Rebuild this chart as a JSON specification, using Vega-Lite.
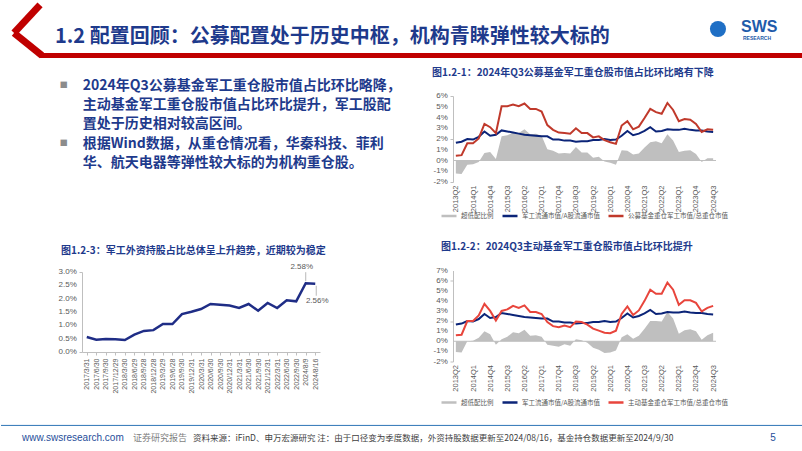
{
  "$schema": "https://vega.github.io/schema/vega-lite/v6.json",
  "padding": 0,
  "background": "white",
  "config": {
    "view": {"stroke": null},
    "font": "Noto Sans CJK SC",
    "axis": {"labelFont": "Liberation Sans", "labelColor": "#595959", "domainColor": "#BFBFBF", "tickColor": "#BFBFBF", "grid": false, "title": null, "labelFontSize": 8, "tickSize": 3},
    "title": {"anchor": "start", "font": "Noto Sans CJK SC", "fontWeight": "bold", "fontSize": 10, "color": "#1E3A8C", "frame": "group"},
    "legend": {"labelFont": "Noto Sans CJK SC", "labelFontSize": 6.5, "labelColor": "#595959", "symbolType": "stroke", "symbolSize": 225, "symbolStrokeWidth": 2.5, "columnPadding": 3, "labelOffset": 3, "title": null}
  },
  "datasets": {
    "q": [
      {"q": "2013Q2", "blue": 1.65, "red1": 0.45, "gap1": -1.2, "red2": 0.6, "gap2": -1.05},
      {"q": "2013Q3", "blue": 1.75, "red1": 0.5, "gap1": -1.25, "red2": 0.65, "gap2": -1.1},
      {"q": "2013Q4", "blue": 2.0, "red1": 1.6, "gap1": -0.4, "red2": 2.0, "gap2": 0},
      {"q": "2014Q1", "blue": 1.95, "red1": 1.6, "gap1": -0.35, "red2": 2.0, "gap2": 0.05},
      {"q": "2014Q2", "blue": 2.2, "red1": 2.05, "gap1": -0.15, "red2": 2.55, "gap2": 0.35},
      {"q": "2014Q3", "blue": 2.7, "red1": 3.4, "gap1": 0.7, "red2": 3.7, "gap2": 1.0},
      {"q": "2014Q4", "blue": 2.3, "red1": 3.1, "gap1": 0.8, "red2": 3.0, "gap2": 0.7},
      {"q": "2015Q1", "blue": 2.4, "red1": 2.55, "gap1": 0.15, "red2": 2.05, "gap2": -0.35},
      {"q": "2015Q2", "blue": 2.8, "red1": 5.05, "gap1": 2.25, "red2": 3.0, "gap2": 0.2},
      {"q": "2015Q3", "blue": 2.7, "red1": 5.05, "gap1": 2.35, "red2": 3.15, "gap2": 0.45},
      {"q": "2015Q4", "blue": 2.6, "red1": 5.2, "gap1": 2.6, "red2": 3.5, "gap2": 0.9},
      {"q": "2016Q1", "blue": 2.5, "red1": 5.05, "gap1": 2.55, "red2": 3.3, "gap2": 0.8},
      {"q": "2016Q2", "blue": 2.4, "red1": 5.3, "gap1": 2.9, "red2": 3.55, "gap2": 1.15},
      {"q": "2016Q3", "blue": 2.35, "red1": 4.8, "gap1": 2.45, "red2": 2.9, "gap2": 0.55},
      {"q": "2016Q4", "blue": 2.3, "red1": 4.8, "gap1": 2.5, "red2": 2.9, "gap2": 0.6},
      {"q": "2017Q1", "blue": 2.25, "red1": 4.55, "gap1": 2.3, "red2": 2.7, "gap2": 0.45},
      {"q": "2017Q2", "blue": 2.25, "red1": 3.3, "gap1": 1.05, "red2": 1.9, "gap2": -0.35},
      {"q": "2017Q3", "blue": 1.95, "red1": 2.85, "gap1": 0.9, "red2": 1.5, "gap2": -0.45},
      {"q": "2017Q4", "blue": 1.95, "red1": 2.6, "gap1": 0.65, "red2": 1.4, "gap2": -0.55},
      {"q": "2018Q1", "blue": 1.85, "red1": 2.55, "gap1": 0.7, "red2": 1.55, "gap2": -0.3},
      {"q": "2018Q2", "blue": 1.85, "red1": 2.5, "gap1": 0.65, "red2": 1.4, "gap2": -0.45},
      {"q": "2018Q3", "blue": 1.75, "red1": 3.0, "gap1": 1.25, "red2": 1.95, "gap2": 0.2},
      {"q": "2018Q4", "blue": 1.8, "red1": 2.55, "gap1": 0.75, "red2": 1.9, "gap2": 0.1},
      {"q": "2019Q1", "blue": 1.8, "red1": 2.55, "gap1": 0.75, "red2": 1.65, "gap2": -0.15},
      {"q": "2019Q2", "blue": 1.9, "red1": 2.15, "gap1": 0.25, "red2": 1.25, "gap2": -0.65},
      {"q": "2019Q3", "blue": 1.9, "red1": 2.25, "gap1": 0.35, "red2": 1.05, "gap2": -0.85},
      {"q": "2019Q4", "blue": 2.0, "red1": 1.9, "gap1": -0.1, "red2": 0.85, "gap2": -1.15},
      {"q": "2020Q1", "blue": 1.9, "red1": 1.7, "gap1": -0.2, "red2": 0.8, "gap2": -1.1},
      {"q": "2020Q2", "blue": 1.95, "red1": 1.55, "gap1": -0.4, "red2": 1.05, "gap2": -0.9},
      {"q": "2020Q3", "blue": 2.3, "red1": 3.25, "gap1": 0.95, "red2": 2.7, "gap2": 0.4},
      {"q": "2020Q4", "blue": 2.75, "red1": 3.65, "gap1": 0.9, "red2": 3.45, "gap2": 0.7},
      {"q": "2021Q1", "blue": 2.35, "red1": 2.9, "gap1": 0.55, "red2": 2.6, "gap2": 0.25},
      {"q": "2021Q2", "blue": 2.5, "red1": 3.15, "gap1": 0.65, "red2": 3.05, "gap2": 0.55},
      {"q": "2021Q3", "blue": 2.75, "red1": 3.95, "gap1": 1.2, "red2": 4.0, "gap2": 1.25},
      {"q": "2021Q4", "blue": 3.1, "red1": 4.8, "gap1": 1.7, "red2": 5.1, "gap2": 2.0},
      {"q": "2022Q1", "blue": 2.7, "red1": 4.5, "gap1": 1.8, "red2": 4.7, "gap2": 2.0},
      {"q": "2022Q2", "blue": 2.75, "red1": 4.35, "gap1": 1.6, "red2": 4.7, "gap2": 1.95},
      {"q": "2022Q3", "blue": 2.9, "red1": 5.35, "gap1": 2.45, "red2": 5.8, "gap2": 2.9},
      {"q": "2022Q4", "blue": 2.85, "red1": 4.7, "gap1": 1.85, "red2": 5.1, "gap2": 2.25},
      {"q": "2023Q1", "blue": 2.85, "red1": 3.65, "gap1": 0.8, "red2": 3.6, "gap2": 0.75},
      {"q": "2023Q2", "blue": 2.95, "red1": 3.85, "gap1": 0.9, "red2": 4.05, "gap2": 1.1},
      {"q": "2023Q3", "blue": 2.85, "red1": 3.8, "gap1": 0.95, "red2": 4.05, "gap2": 1.2},
      {"q": "2023Q4", "blue": 2.8, "red1": 3.4, "gap1": 0.6, "red2": 3.8, "gap2": 1.0},
      {"q": "2024Q1", "blue": 2.8, "red1": 2.65, "gap1": -0.15, "red2": 2.95, "gap2": 0.15},
      {"q": "2024Q2", "blue": 2.7, "red1": 2.9, "gap1": 0.2, "red2": 3.3, "gap2": 0.6},
      {"q": "2024Q3", "blue": 2.65, "red1": 2.85, "gap1": 0.2, "red2": 3.5, "gap2": 0.85}
    ],
    "fx": [
      {"d": "2017/3/31", "v": 0.0056},
      {"d": "2017/6/30", "v": 0.0046},
      {"d": "2017/9/30", "v": 0.0049},
      {"d": "2017/12/29", "v": 0.00475},
      {"d": "2018/3/30", "v": 0.0045},
      {"d": "2018/6/29", "v": 0.0065},
      {"d": "2018/9/28", "v": 0.0079},
      {"d": "2018/12/28", "v": 0.0082},
      {"d": "2019/3/29", "v": 0.0105},
      {"d": "2019/6/28", "v": 0.0105},
      {"d": "2019/9/30", "v": 0.0142},
      {"d": "2019/12/31", "v": 0.0151},
      {"d": "2020/3/31", "v": 0.0161},
      {"d": "2020/6/30", "v": 0.018},
      {"d": "2020/9/30", "v": 0.0177},
      {"d": "2020/12/31", "v": 0.0174},
      {"d": "2021/3/31", "v": 0.0165},
      {"d": "2021/6/30", "v": 0.018},
      {"d": "2021/9/30", "v": 0.0155},
      {"d": "2021/12/31", "v": 0.0184},
      {"d": "2022/3/31", "v": 0.0165},
      {"d": "2022/6/30", "v": 0.0194},
      {"d": "2022/9/30", "v": 0.019},
      {"d": "2024/8/9", "v": 0.0258},
      {"d": "2024/8/16", "v": 0.0256}
    ],
    "ticks1": [
      {"t": -2, "lab": "-2%"}, {"t": -1, "lab": "-1%"}, {"t": 0, "lab": "0%"}, {"t": 1, "lab": "1%"}, {"t": 2, "lab": "2%"},
      {"t": 3, "lab": "3%"}, {"t": 4, "lab": "4%"}, {"t": 5, "lab": "5%"}, {"t": 6, "lab": "6%"}
    ],
    "ticks2": [
      {"t": -2, "lab": "-2%"}, {"t": -1, "lab": "-1%"}, {"t": 0, "lab": "0%"}, {"t": 1, "lab": "1%"}, {"t": 2, "lab": "2%"},
      {"t": 3, "lab": "3%"}, {"t": 4, "lab": "4%"}, {"t": 5, "lab": "5%"}, {"t": 6, "lab": "6%"}, {"t": 7, "lab": "7%"}
    ],
    "ticks3": [
      {"t": 0, "lab": "0.0%"}, {"t": 0.005, "lab": "0.5%"}, {"t": 0.01, "lab": "1.0%"}, {"t": 0.015, "lab": "1.5%"},
      {"t": 0.02, "lab": "2.0%"}, {"t": 0.025, "lab": "2.5%"}, {"t": 0.03, "lab": "3.0%"}
    ]
  },
  "resolve": {"scale": {"color": "independent"}, "legend": {"color": "independent"}},
  "spacing": 0,
  "vconcat": [
    {
      "width": 720,
      "height": 68,
      "data": {"values": [{"title": "1.2 配置回顾：公募配置处于历史中枢，机构青睐弹性较大标的"}]},
      "layer": [
        {
          "mark": {"type": "rule", "color": "#C00000", "strokeWidth": 5},
          "encoding": {
            "x": {"datum": -0.0583, "type": "quantitative", "scale": {"domain": [0, 1], "nice": false, "zero": false}, "axis": null},
            "x2": {"datum": 1},
            "y": {"datum": 0.816, "type": "quantitative", "scale": {"domain": [0, 1], "reverse": true, "nice": false, "zero": false}, "axis": null}
          }
        },
        {
          "mark": {"type": "rule", "color": "#C00000", "strokeWidth": 7},
          "encoding": {"x": {"datum": -0.0583, "type": "quantitative"}, "x2": {"datum": -0.0944}, "y": {"datum": 0.07, "type": "quantitative"}, "y2": {"datum": 0.485}}
        },
        {
          "mark": {"type": "rule", "color": "#C00000", "strokeWidth": 7},
          "encoding": {"x": {"datum": -0.0944, "type": "quantitative"}, "x2": {"datum": -0.0556}, "y": {"datum": 0.485, "type": "quantitative"}, "y2": {"datum": 0.816}}
        },
        {
          "mark": {"type": "text", "fontSize": 20, "fontWeight": "bold", "color": "#1E3A8C", "align": "left", "baseline": "middle", "font": "Noto Sans CJK SC"},
          "encoding": {"x": {"datum": -0.0375, "type": "quantitative"}, "y": {"datum": 0.544, "type": "quantitative"}, "text": {"field": "title"}}
        },
        {
          "mark": {"type": "point", "shape": "circle", "filled": true, "size": 260, "color": "#1F6FC5", "opacity": 1},
          "encoding": {"x": {"datum": 0.8833, "type": "quantitative"}, "y": {"datum": 0.426, "type": "quantitative"}}
        },
        {
          "mark": {"type": "text", "fontSize": 16, "fontWeight": "bold", "color": "#1F5BAA", "align": "left", "baseline": "middle", "font": "Liberation Sans"},
          "encoding": {"x": {"datum": 0.9153, "type": "quantitative"}, "y": {"datum": 0.404, "type": "quantitative"}, "text": {"value": "SWS"}}
        },
        {
          "mark": {"type": "text", "fontSize": 5, "fontWeight": "bold", "color": "#1F5BAA", "align": "left", "baseline": "middle", "font": "Liberation Sans"},
          "encoding": {"x": {"datum": 0.918, "type": "quantitative"}, "y": {"datum": 0.56, "type": "quantitative"}, "text": {"value": "RESEARCH"}}
        }
      ]
    },
    {
      "resolve": {"scale": {"color": "independent"}, "legend": {"color": "independent"}},
      "spacing": 13,
      "hconcat": [
        {
          "spacing": 50,
          "vconcat": [
            {
              "width": 333,
              "height": 100,
              "data": {"values": [
                {"line": 0, "bullet": "■", "text": "2024年Q3公募基金军工重仓股市值占比环比略降，"},
                {"line": 1, "bullet": "", "text": "主动基金军工重仓股市值占比环比提升，军工股配"},
                {"line": 2, "bullet": "", "text": "置处于历史相对较高区间。"},
                {"line": 3, "bullet": "■", "text": "根据Wind数据，从重仓情况看，华秦科技、菲利"},
                {"line": 4, "bullet": "", "text": "华、航天电器等弹性较大标的为机构重仓股。"}
              ]},
              "layer": [
                {
                  "transform": [{"filter": "datum.bullet != ''"}],
                  "mark": {"type": "text", "fontSize": 8, "color": "#8C8C8C", "align": "center", "baseline": "middle"},
                  "encoding": {
                    "x": {"datum": -0.055, "type": "quantitative", "scale": {"domain": [0, 1], "nice": false, "zero": false}, "axis": null},
                    "y": {"field": "line", "type": "quantitative", "scale": {"domain": [0.531, 5.686], "reverse": true, "nice": false, "zero": false}, "axis": null},
                    "text": {"field": "bullet"}
                  }
                },
                {
                  "mark": {"type": "text", "fontSize": 14, "fontWeight": "bold", "color": "#1E3A8C", "align": "left", "baseline": "middle"},
                  "encoding": {
                    "x": {"datum": 0.0021, "type": "quantitative"},
                    "y": {"field": "line", "type": "quantitative"},
                    "text": {"field": "text"}
                  }
                }
              ]
            },
            {
              "width": 238,
              "height": 80,
              "title": {"text": "图1.2-3：军工外资持股占比总体呈上升趋势，近期较为稳定", "dx": -21, "offset": 7},
              "data": {"name": "fx"},
              "layer": [
                {
                  "mark": {"type": "line", "color": "#1F2D86", "strokeWidth": 2.5},
                  "encoding": {
                    "x": {"field": "d", "type": "ordinal", "sort": null, "scale": {"type": "point", "padding": 0.5}, "axis": {"labelAngle": -90, "labelFontSize": 7, "labelPadding": 3}},
                    "y": {"field": "v", "type": "quantitative", "scale": {"domain": [0, 0.03], "nice": false, "zero": false}, "axis": {"labels": false, "values": [0, 0.005, 0.01, 0.015, 0.02, 0.025, 0.03], "minExtent": 82}}
                  }
                },
                {
                  "data": {"name": "ticks3"},
                  "mark": {"type": "text", "align": "right", "baseline": "middle", "fontSize": 8, "color": "#595959", "font": "Liberation Sans", "dx": -10},
                  "encoding": {"x": {"datum": "2017/3/31", "type": "ordinal"}, "y": {"field": "t", "type": "quantitative"}, "text": {"field": "lab"}}
                },
                {
                  "transform": [{"filter": "datum.d == '2024/8/9'"}],
                  "mark": {"type": "rule", "color": "#A6A6A6", "strokeWidth": 0.8, "yOffset": -2, "y2Offset": -11},
                  "encoding": {"x": {"field": "d", "type": "ordinal", "sort": null}, "y": {"field": "v", "type": "quantitative"}, "y2": {"field": "v"}}
                },
                {
                  "transform": [{"filter": "datum.d == '2024/8/16'"}],
                  "mark": {"type": "rule", "color": "#A6A6A6", "strokeWidth": 0.8, "yOffset": 2, "y2Offset": 12, "xOffset": 1},
                  "encoding": {"x": {"field": "d", "type": "ordinal", "sort": null}, "y": {"field": "v", "type": "quantitative"}, "y2": {"field": "v"}}
                },
                {
                  "transform": [{"filter": "datum.d == '2024/8/9'"}],
                  "mark": {"type": "text", "fontSize": 8, "color": "#595959", "font": "Liberation Sans", "dx": -4, "dy": -16},
                  "encoding": {"x": {"field": "d", "type": "ordinal", "sort": null}, "y": {"field": "v", "type": "quantitative"}, "text": {"field": "v", "type": "quantitative", "format": ".2%"}}
                },
                {
                  "transform": [{"filter": "datum.d == '2024/8/16'"}],
                  "mark": {"type": "text", "fontSize": 8, "color": "#595959", "font": "Liberation Sans", "dx": 2, "dy": 17},
                  "encoding": {"x": {"field": "d", "type": "ordinal", "sort": null}, "y": {"field": "v", "type": "quantitative"}, "text": {"field": "v", "type": "quantitative", "format": ".2%"}}
                }
              ]
            }
          ]
        },
        {
          "resolve": {"scale": {"color": "independent"}, "legend": {"color": "independent"}},
          "spacing": 20.5,
          "vconcat": [
            {
              "width": 263,
              "height": 86,
              "title": {"text": "图1.2-1：2024年Q3公募基金军工重仓股市值占比环比略有下降", "dx": -21, "offset": 14},
              "data": {"name": "q"},
              "layer": [
                {
                  "mark": {"type": "area", "opacity": 1},
                  "encoding": {
                    "x": {"field": "q", "type": "ordinal", "sort": null, "scale": {"type": "point", "padding": 0.5}, "axis": {"values": ["2013Q2", "2014Q1", "2014Q4", "2015Q3", "2016Q2", "2017Q1", "2017Q4", "2018Q3", "2019Q2", "2020Q1", "2020Q4", "2021Q3", "2022Q2", "2023Q1", "2023Q4", "2024Q3"], "labelAngle": -90, "domain": false, "ticks": false, "labelPadding": 3, "labelFontSize": 7.5}},
                    "y": {"field": "gap1", "type": "quantitative", "scale": {"domain": [-2, 6], "nice": false, "zero": false}, "axis": {"values": [-2, -1, 0, 1, 2, 3, 4, 5, 6], "labels": false, "minExtent": 25}},
                    "color": {"datum": "超低配比例", "scale": {"domain": ["超低配比例", "军工流通市值/A股流通市值", "公募基金重仓军工市值/总重仓市值"], "range": ["#BFBFBF", "#0B2478", "#C0392B"]}, "legend": {"orient": "none", "legendX": -13, "legendY": 111, "direction": "horizontal"}}
                  }
                },
                {
                  "data": {"values": [{}]},
                  "mark": {"type": "rule", "color": "#BFBFBF", "strokeWidth": 1},
                  "encoding": {"y": {"datum": 0, "type": "quantitative"}}
                },
                {
                  "data": {"name": "ticks1"},
                  "mark": {"type": "text", "align": "right", "baseline": "middle", "fontSize": 8, "color": "#595959", "font": "Liberation Sans", "dx": -8},
                  "encoding": {"x": {"datum": "2013Q2", "type": "ordinal"}, "y": {"field": "t", "type": "quantitative"}, "text": {"field": "lab"}}
                },
                {
                  "mark": {"type": "line", "strokeWidth": 2},
                  "encoding": {
                    "x": {"field": "q", "type": "ordinal", "sort": null},
                    "y": {"field": "blue", "type": "quantitative"},
                    "color": {"datum": "军工流通市值/A股流通市值"}
                  }
                },
                {
                  "mark": {"type": "line", "strokeWidth": 2},
                  "encoding": {
                    "x": {"field": "q", "type": "ordinal", "sort": null},
                    "y": {"field": "red1", "type": "quantitative"},
                    "color": {"datum": "公募基金重仓军工市值/总重仓市值"}
                  }
                }
              ]
            },
            {
              "width": 263,
              "height": 91,
              "title": {"text": "图1.2-2：2024Q3主动基金军工重仓股市值占比环比提升", "dx": -12, "offset": 15},
              "data": {"name": "q"},
              "layer": [
                {
                  "mark": {"type": "area", "opacity": 1},
                  "encoding": {
                    "x": {"field": "q", "type": "ordinal", "sort": null, "scale": {"type": "point", "padding": 0.5}, "axis": {"values": ["2013Q2", "2014Q1", "2014Q4", "2015Q3", "2016Q2", "2017Q1", "2017Q4", "2018Q3", "2019Q2", "2020Q1", "2020Q4", "2021Q3", "2022Q2", "2023Q1", "2023Q4", "2024Q3"], "labelAngle": -90, "domain": false, "ticks": false, "labelPadding": 3, "labelFontSize": 7.5}},
                    "y": {"field": "gap2", "type": "quantitative", "scale": {"domain": [-2, 7], "nice": false, "zero": false}, "axis": {"values": [-2, -1, 0, 1, 2, 3, 4, 5, 6, 7], "labels": false, "minExtent": 25}},
                    "color": {"datum": "超低配比例", "scale": {"domain": ["超低配比例", "军工流通市值/A股流通市值", "主动基金重仓军工市值/总重仓市值"], "range": ["#BFBFBF", "#0B2478", "#E8453C"]}, "legend": {"orient": "none", "legendX": -13, "legendY": 123, "direction": "horizontal"}}
                  }
                },
                {
                  "data": {"values": [{}]},
                  "mark": {"type": "rule", "color": "#BFBFBF", "strokeWidth": 1},
                  "encoding": {"y": {"datum": 0, "type": "quantitative"}}
                },
                {
                  "data": {"name": "ticks2"},
                  "mark": {"type": "text", "align": "right", "baseline": "middle", "fontSize": 8, "color": "#595959", "font": "Liberation Sans", "dx": -8},
                  "encoding": {"x": {"datum": "2013Q2", "type": "ordinal"}, "y": {"field": "t", "type": "quantitative"}, "text": {"field": "lab"}}
                },
                {
                  "mark": {"type": "line", "strokeWidth": 2},
                  "encoding": {
                    "x": {"field": "q", "type": "ordinal", "sort": null},
                    "y": {"field": "blue", "type": "quantitative"},
                    "color": {"datum": "军工流通市值/A股流通市值"}
                  }
                },
                {
                  "mark": {"type": "line", "strokeWidth": 2},
                  "encoding": {
                    "x": {"field": "q", "type": "ordinal", "sort": null},
                    "y": {"field": "red2", "type": "quantitative"},
                    "color": {"datum": "主动基金重仓军工市值/总重仓市值"}
                  }
                }
              ]
            }
          ]
        }
      ]
    },
    {
      "width": 720,
      "height": 43,
      "data": {"values": [{"site": "www.swsresearch.com", "tag": "证券研究报告", "src": "资料来源：iFinD、申万宏源研究 注：由于口径变为季度数据，外资持股数据更新至2024/08/16，基金持仓数据更新至2024/9/30", "page": "5"}]},
      "layer": [
        {
          "mark": {"type": "rule", "color": "#2E75B6", "strokeWidth": 1},
          "encoding": {
            "x": {"datum": -0.1125, "type": "quantitative", "scale": {"domain": [0, 1], "nice": false, "zero": false}, "axis": null},
            "x2": {"datum": 1},
            "y": {"datum": 0.405, "type": "quantitative", "scale": {"domain": [0, 1], "reverse": true, "nice": false, "zero": false}, "axis": null}
          }
        },
        {
          "mark": {"type": "text", "fontSize": 10, "color": "#1F4E9A", "align": "left", "baseline": "middle", "font": "Liberation Sans"},
          "encoding": {"x": {"datum": -0.0833, "type": "quantitative"}, "y": {"datum": 0.69, "type": "quantitative"}, "text": {"field": "site"}}
        },
        {
          "mark": {"type": "text", "fontSize": 9, "color": "#7F7F7F", "align": "left", "baseline": "middle"},
          "encoding": {"x": {"datum": 0.0708, "type": "quantitative"}, "y": {"datum": 0.69, "type": "quantitative"}, "text": {"field": "tag"}}
        },
        {
          "mark": {"type": "text", "fontSize": 8.5, "color": "#404040", "align": "left", "baseline": "middle"},
          "encoding": {"x": {"datum": 0.1542, "type": "quantitative"}, "y": {"datum": 0.69, "type": "quantitative"}, "text": {"field": "src"}}
        },
        {
          "mark": {"type": "text", "fontSize": 10, "color": "#1F4E9A", "align": "center", "baseline": "middle", "font": "Liberation Sans"},
          "encoding": {"x": {"datum": 0.9597, "type": "quantitative"}, "y": {"datum": 0.69, "type": "quantitative"}, "text": {"field": "page"}}
        }
      ]
    }
  ]
}
